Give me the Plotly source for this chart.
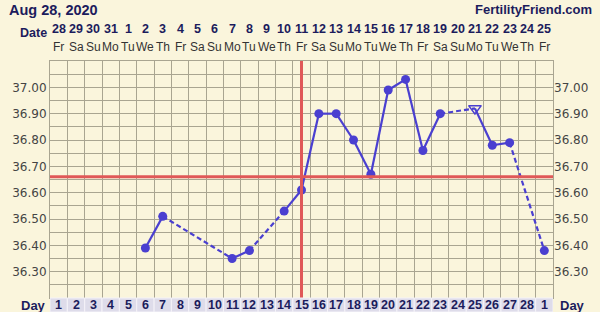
import plotly.graph_objects as go

# ---- data ----
days = [6, 7, 11, 12, 14, 15, 16, 17, 18, 19, 20, 21, 22, 23, 25, 26, 27, 29]
temps = [36.39, 36.51, 36.35, 36.38, 36.53, 36.61, 36.90, 36.90, 36.80, 36.67,
         36.99, 37.03, 36.76, 36.90, 36.92, 36.78, 36.79, 36.38]
open_days = [25]  # hollow triangle (questionable temp)
coverline = 36.66
ovulation_day = 15

date_labels = ["28", "29", "30", "31"] + [str(i) for i in range(1, 26)]
weekday_labels = (["Fr", "Sa", "Su", "Mo", "Tu", "We", "Th"] * 5)[:29]
cycle_day_labels = [str(i) for i in range(1, 29)] + ["1"]
ytick_vals = [round(36.20 + 0.05 * i, 2) for i in range(19)]
ytick_text = [f"{v:.2f}" if (abs(v * 10 - round(v * 10)) < 1e-6 and 36.25 < v < 37.05) else "" for v in ytick_vals]
header_date = "Aug 28, 2020"
site = "FertilityFriend.com"

# ---- style ----
NAVY = "#1c1c5c"
BLUE = "#4a3fd0"
RED = "#e05858"
GRID = "#a9a591"
BG = "#faf5dc"
FONT = "DejaVu Sans"
NFONT = "Liberation Sans"
n = len(date_labels)

L, R, T, B, W, H = 50, 47, 61, 14, 600, 312
pw, ph = W - L - R, H - T - B
def px_x(px):
    return (px - L) / pw
def px_y(py):
    return (H - B - py) / ph

fig = go.Figure()

# line segments: solid for consecutive days, dashed across gaps
sx, sy, dx, dy = [], [], [], []
for i in range(len(days) - 1):
    if days[i + 1] - days[i] == 1:
        sx += [days[i], days[i + 1], None]; sy += [temps[i], temps[i + 1], None]
    else:
        dx += [days[i], days[i + 1], None]; dy += [temps[i], temps[i + 1], None]

fig.add_trace(go.Scatter(x=sx, y=sy, mode="lines", line=dict(color=BLUE, width=2.2),
                         hoverinfo="skip", showlegend=False))
fig.add_trace(go.Scatter(x=dx, y=dy, mode="lines", line=dict(color=BLUE, width=2.2, dash="5px,3px"),
                         hoverinfo="skip", showlegend=False))
fd = [d for d in days if d not in open_days]
ft = [t for d, t in zip(days, temps) if d not in open_days]
od = [d for d in days if d in open_days]
ot = [t for d, t in zip(days, temps) if d in open_days]
fig.add_trace(go.Scatter(x=fd, y=ft, mode="markers", marker=dict(color=BLUE, size=9),
                         showlegend=False))
fig.add_trace(go.Scatter(x=od, y=ot, mode="markers",
                         marker=dict(symbol="triangle-down-open", color=BLUE, size=11,
                                     line=dict(width=1.5)), showlegend=False))
# dummy trace for right axis
fig.add_trace(go.Scatter(x=[None], y=[None], yaxis="y2", showlegend=False))

shapes = []
shapes.append(dict(type="line", xref="paper", yref="y", x0=0, x1=1, y0=coverline, y1=coverline,
                   line=dict(color=RED, width=3)))
shapes.append(dict(type="line", xref="x", yref="paper", x0=ovulation_day, x1=ovulation_day, y0=0, y1=1,
                   line=dict(color=RED, width=3)))
for i in range(n):
    shapes.append(dict(type="rect", xref="x", yref="paper", x0=i + 0.5, x1=i + 1.5,
                       y0=px_y(H), y1=0, fillcolor="#dedcea", line=dict(color="#f4f2f8", width=1),
                       layer="above"))

ann = []
ann.append(dict(text=f"<b>{header_date}</b>", x=px_x(7), y=px_y(10), xanchor="left", yanchor="middle",
                font=dict(size=14.5, color=NAVY, family=NFONT)))
ann.append(dict(text=f"<b>{site}</b>", x=px_x(594), y=px_y(9), xanchor="right", yanchor="middle",
                font=dict(size=13, color=NAVY, family=NFONT)))
ann.append(dict(text="<b>Date</b>", x=px_x(33), y=px_y(33), xanchor="center", yanchor="middle",
                font=dict(size=12.5, color=NAVY, family=NFONT)))
ann.append(dict(text="<b>Day</b>", x=px_x(33), y=px_y(305), xanchor="center", yanchor="middle",
                font=dict(size=13, color=NAVY, family=NFONT)))
ann.append(dict(text="<b>Day</b>", x=px_x(572), y=px_y(305), xanchor="center", yanchor="middle",
                font=dict(size=13, color=NAVY, family=NFONT)))
for i in range(n):
    ann.append(dict(text=f"<b>{date_labels[i]}</b>", xref="x", x=i + 1, y=px_y(29),
                    xanchor="center", yanchor="middle", font=dict(size=12.5, color=NAVY, family=NFONT)))
    ann.append(dict(text=weekday_labels[i], xref="x", x=i + 1, y=px_y(47),
                    xanchor="center", yanchor="middle", font=dict(size=12, color="#333333", family=NFONT)))
    ann.append(dict(text=f"<b>{cycle_day_labels[i]}</b>", xref="x", x=i + 1, y=px_y(305),
                    xanchor="center", yanchor="middle", font=dict(size=12.5, color=NAVY, family=NFONT)))
for a in ann:
    a.setdefault("xref", "paper")
    a["yref"] = "paper"
    a["showarrow"] = False

yax = dict(range=[36.20, 37.10], tickvals=ytick_vals, ticktext=ytick_text, showgrid=True,
           gridcolor=GRID, gridwidth=1, zeroline=False, ticks="",
           tickfont=dict(size=12, color="#444444", family=FONT), fixedrange=True)
fig.update_layout(
    width=W, height=H, margin=dict(l=L, r=R, t=T, b=B),
    paper_bgcolor=BG, plot_bgcolor=BG,
    xaxis=dict(range=[0.5, n + 0.5], tickvals=[i + 0.5 for i in range(n + 1)], showticklabels=False,
               showgrid=True, gridcolor=GRID, gridwidth=1, zeroline=False, ticks="",
               showline=True, linecolor=GRID, mirror=True),
    yaxis=dict(**yax, side="left", showline=True, linecolor=GRID, mirror=True),
    yaxis2=dict(**yax, side="right", overlaying="y", matches="y"),
    shapes=shapes, annotations=ann, showlegend=False,
)
fig.write_html("out.html")
